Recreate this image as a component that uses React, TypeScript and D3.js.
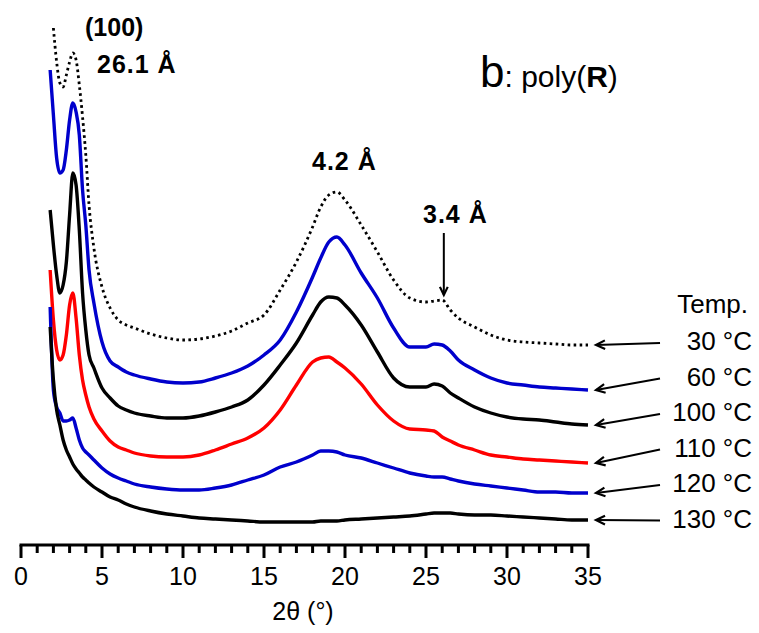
import React, { useEffect, useRef } from 'react';
import * as d3 from 'd3';

// 2θ grid (degrees) shared by all patterns
const twoTheta = [1.8, 2.0, 2.2, 2.4, 2.6, 2.8, 3.0, 3.2, 3.4, 3.6, 3.8, 4.0, 4.2, 4.5, 5, 5.5, 6, 6.5, 7, 8, 9, 10, 11, 12, 13, 14, 15, 16, 17, 18, 18.5, 19, 19.5, 20, 21, 22, 23, 24, 25, 25.5, 26, 26.5, 27, 28, 29, 30, 31, 32, 33, 34, 35];

// intensities (a.u., curves already stacked)
const t30 = [null, 517, 483, 462, 458, 470, 483, 492, 485, 460, 428, 390, 340, 297, 258, 237, 225, 220, 217, 211, 207, 205, 206, 209, 214, 222, 230, 255, 283, 318, 338, 350, 353, 345, 320, 293, 265, 247, 243, 244, 245, 235, 227, 218, 210, 205, 203, 202, 201, 200, 200];
const t60 = [475, 430, 387, 372, 375, 395, 425, 442, 433, 410, 355, 320, 275, 242, 203, 184, 178, 173, 170, 166, 163, 162, 163, 167, 172, 179, 190, 205, 233, 268, 287, 303, 308, 300, 272, 247, 217, 198, 198, 201, 200, 194, 185, 175, 167, 162, 160, 158, 157, 156, 155];
const t100 = [335, 300, 270, 252, 260, 283, 330, 372, 360, 315, 252, 215, 190, 177, 157, 147, 139, 135, 132, 129, 127, 127, 129, 133, 138, 145, 160, 180, 202, 230, 243, 248, 247, 240, 220, 193, 167, 158, 158, 161, 159, 152, 147, 138, 132, 128, 126, 125, 123, 121, 120];
const t110 = [275, 225, 195, 185, 190, 210, 240, 252, 227, 190, 165, 150, 138, 126, 114, 104, 98, 95, 92, 89, 88, 88, 90, 95, 101, 107, 117, 135, 160, 183, 187, 188, 183, 177, 161, 140, 124, 116, 115, 114, 108, 104, 100, 95, 90, 88, 86, 85, 84, 83, 82];
const t120 = [238, 155, 138, 132, 124, 124, 125, 127, 117, 105, 97, 93, 90, 85, 77, 71, 67, 64, 61, 58, 56, 55, 55, 57, 60, 65, 70, 78, 83, 90, 94, 94, 93, 90, 87, 82, 77, 72, 69, 68, 68, 66, 64, 61, 59, 57, 55, 53, 53, 52, 52];
const t130 = [218, 165, 135, 120, 105, 95, 88, 81, 76, 72, 68, 65, 62, 58, 53, 48, 45, 41, 38, 34, 31, 29, 27, 26, 25, 24, 23, 23, 23, 23, 24, 24, 24, 25, 26, 27, 28, 29, 31, 32, 32, 32, 31, 30, 30, 29, 28, 27, 26, 25, 25];

const temps = ['30 °C', '60 °C', '100 °C', '110 °C', '120 °C', '130 °C'];
const seriesValues = [t30, t60, t100, t110, t120, t130];
const seriesColors = ['#000000', '#0000cc', '#000000', '#ff0000', '#0000cc', '#000000'];
const xTicks = [0, 5, 10, 15, 20, 25, 30, 35];

const W = 759;
const H = 633;
const FONT = '"Liberation Sans", Arial, Helvetica, sans-serif';

const App = () => {
  const svgRef = useRef(null);

  useEffect(() => {
    const svg = d3.select(svgRef.current);
    svg.selectAll('*').remove();

    const x = d3.scaleLinear().domain([0, 35]).range([21, 588]);
    const y = d3.scaleLinear().domain([0, 540]).range([545, 5]);
    const axisY = 545;

    // patterns
    const line = d3.line()
      .defined(d => d[1] != null)
      .x(d => x(d[0]))
      .y(d => y(d[1]))
      .curve(d3.curveMonotoneX);

    seriesValues.forEach((vals, i) => {
      const pts = twoTheta.map((t, j) => [t, vals[j]]);
      svg.append('path')
        .attr('d', line(pts))
        .attr('fill', 'none')
        .attr('stroke', seriesColors[i])
        .attr('stroke-width', i === 0 ? 2.8 : 3.4)
        .attr('stroke-dasharray', i === 0 ? '2.6,3.4' : null)
        .attr('stroke-linejoin', 'round');
    });

    // x axis
    const g = svg.append('g');
    g.append('line')
      .attr('x1', x(0) - 1.5).attr('x2', x(35) + 1.5)
      .attr('y1', axisY).attr('y2', axisY)
      .attr('stroke', '#000').attr('stroke-width', 3);
    d3.range(0, 36).forEach(v => {
      const major = v % 5 === 0;
      g.append('line')
        .attr('x1', x(v)).attr('x2', x(v))
        .attr('y1', axisY).attr('y2', axisY + (major ? 13 : 8))
        .attr('stroke', '#000').attr('stroke-width', 3);
    });
    g.selectAll('text.tick')
      .data(xTicks)
      .join('text')
      .attr('x', d => x(d))
      .attr('y', 585)
      .attr('text-anchor', 'middle')
      .style('font', `25px ${FONT}`)
      .text(d => d);
    g.append('text')
      .attr('x', 303).attr('y', 620)
      .attr('text-anchor', 'middle')
      .style('font', `25px ${FONT}`)
      .text('2θ (°)');

    // arrow helper
    const arrow = (x1, y1, x2, y2, head = 9) => {
      const a = Math.atan2(y2 - y1, x2 - x1);
      svg.append('line')
        .attr('x1', x1).attr('y1', y1).attr('x2', x2).attr('y2', y2)
        .attr('stroke', '#000').attr('stroke-width', 2);
      const p1 = [x2 - head * Math.cos(a - 0.45), y2 - head * Math.sin(a - 0.45)];
      const p2 = [x2 - head * Math.cos(a + 0.45), y2 - head * Math.sin(a + 0.45)];
      svg.append('path')
        .attr('d', `M${p1[0]},${p1[1]}L${x2},${y2}L${p2[0]},${p2[1]}`)
        .attr('fill', 'none')
        .attr('stroke', '#000')
        .attr('stroke-width', 2.2);
    };

    // peak annotations
    const bold = `bold 25px ${FONT}`;
    svg.append('text').attr('x', 85).attr('y', 36).style('font', bold).text('(100)');
    svg.append('text').attr('x', 97).attr('y', 73).style('font', bold).style('letter-spacing', '1px').text('26.1 Å');
    svg.append('text').attr('x', 312).attr('y', 170).style('font', bold).style('letter-spacing', '1px').text('4.2 Å');
    svg.append('text').attr('x', 423).attr('y', 223).style('font', bold).style('letter-spacing', '1px').text('3.4 Å');
    arrow(x(26.1), 233, x(26.1), 295);

    // panel title
    const title = svg.append('text')
      .attr('x', 480).attr('y', 87)
      .style('font-family', FONT);
    title.append('tspan').style('font-size', '44px').text('b');
    title.append('tspan').style('font-size', '30px').text(': poly(');
    title.append('tspan').style('font-size', '30px').style('font-weight', 'bold').text('R');
    title.append('tspan').style('font-size', '30px').text(')');

    // temperature legend
    svg.append('text')
      .attr('x', 748).attr('y', 313)
      .attr('text-anchor', 'end')
      .style('font', `26px ${FONT}`)
      .text('Temp.');
    temps.forEach((t, i) => {
      const vals = seriesValues[i];
      const tailY = 343 + i * 35.5;
      arrow(660, tailY, x(35) + 8, y(vals[vals.length - 1]), 10);
      svg.append('text')
        .attr('x', 752).attr('y', tailY + 7)
        .attr('text-anchor', 'end')
        .style('font', `26px ${FONT}`)
        .text(t);
    });
  }, []);

  return (
    <svg
      ref={svgRef}
      width={W}
      height={H}
      style={{ position: 'absolute', left: 0, top: 0, background: '#fff' }}
    />
  );
};

export default App;
